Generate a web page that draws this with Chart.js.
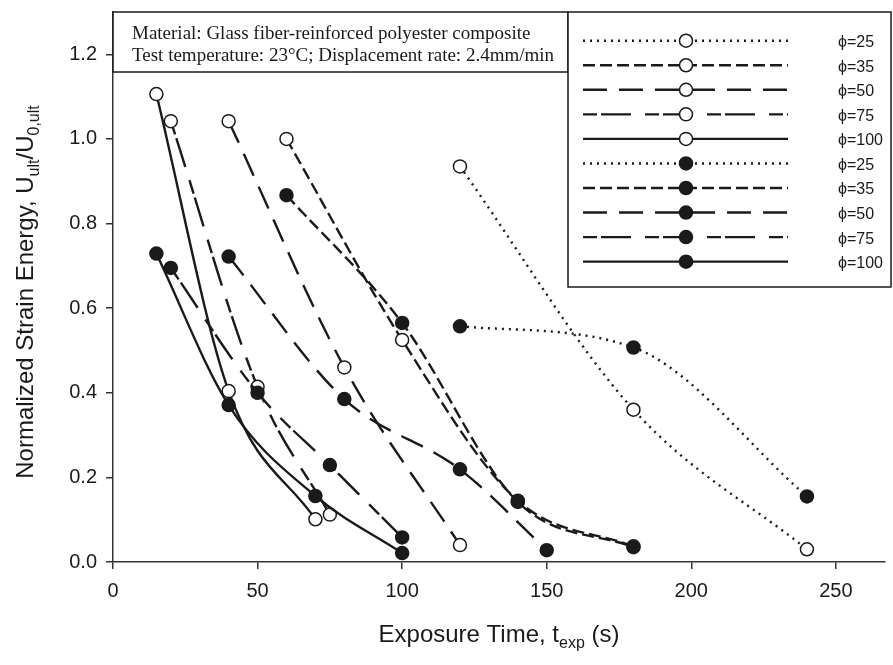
<!DOCTYPE html>
<html>
<head>
<meta charset="utf-8">
<script src="https://cdn.jsdelivr.net/npm/chart.js@4.4.1/dist/chart.umd.min.js"></script>
<style>
  html, body { margin: 0; padding: 0; background: #fff; }
  #wrap { width: 893px; height: 665px; }
</style>
</head>
<body>
<div id="wrap"><canvas id="chart" width="893" height="665"></canvas></div>
<script>
// Normalized strain energy vs exposure time, one series per phi (open / filled markers)
const phiLabels = ['ϕ=25', 'ϕ=35', 'ϕ=50', 'ϕ=75', 'ϕ=100'];

const openTimes = [[120, 180, 240], [60, 100, 140, 180], [40, 80, 120], [20, 50, 75], [15, 40, 70]];
const openValues = [
  [0.935, 0.36, 0.03],
  [1.0, 0.525, 0.145, 0.037],
  [1.042, 0.46, 0.04],
  [1.042, 0.414, 0.112],
  [1.106, 0.404, 0.101],
];

const filledTimes = [[120, 180, 240], [60, 100, 140, 180], [40, 80, 120, 150], [20, 50, 75, 100], [15, 40, 70, 100]];
const filledValues = [
  [0.557, 0.507, 0.155],
  [0.867, 0.565, 0.142, 0.035],
  [0.722, 0.385, 0.219, 0.028],
  [0.695, 0.40, 0.229, 0.058],
  [0.729, 0.371, 0.156, 0.021],
];

const xTicks = [0, 50, 100, 150, 200, 250];
const yTicks = [0, 0.2, 0.4, 0.6, 0.8, 1.0, 1.2];

const noteLines = [
  'Material: Glass fiber-reinforced polyester composite',
  'Test temperature: 23°C; Displacement rate: 2.4mm/min',
];

// line styles per phi (dotted, short dash, long dash, mixed, solid)
const DASHES = [[2, 5], [12, 5], [24, 12], [14, 4, 30, 14], []];
const INK = '#1a1a1a';
const SANS = '"Liberation Sans", Arial, sans-serif';

function makeSeries(times, values, filled) {
  return times.map((ts, i) => ({
    label: phiLabels[i],
    data: ts.map((t, j) => ({ x: t, y: values[i][j] })),
    borderColor: INK,
    borderWidth: 2.4,
    borderDash: DASHES[i],
    cubicInterpolationMode: 'monotone',
    pointRadius: 6.5,
    pointBorderWidth: 1.5,
    pointBorderColor: INK,
    pointBackgroundColor: filled ? INK : '#fff',
    order: filled ? 0 : 1,
  }));
}

const datasets = makeSeries(openTimes, openValues, false)
  .concat(makeSeries(filledTimes, filledValues, true));

// drop the label overflow padding so the plot frame sits where the figure has it
function noPad(s) {
  s.paddingTop = 0;
  s.paddingBottom = 0;
  s.paddingLeft = 0;
  s.paddingRight = 0;
}

// note box, legend box and axis titles (with subscripts)
const decorPlugin = {
  id: 'decor',
  afterDraw(chart) {
    const ctx = chart.ctx;
    const area = chart.chartArea;
    ctx.save();

    // note box
    ctx.fillStyle = '#fff';
    ctx.fillRect(area.left, area.top, 455, 60);
    ctx.strokeStyle = INK;
    ctx.lineWidth = 1.5;
    ctx.strokeRect(area.left, area.top, 455, 60);
    ctx.fillStyle = INK;
    ctx.font = '19px "Liberation Serif", "Times New Roman", serif';
    ctx.textBaseline = 'alphabetic';
    ctx.fillText(noteLines[0], area.left + 19, area.top + 27);
    ctx.fillText(noteLines[1], area.left + 19, area.top + 49);

    // legend box
    const lx = area.left + 455, ly = area.top;
    ctx.fillStyle = '#fff';
    ctx.fillRect(lx, ly, 323, 275);
    ctx.strokeRect(lx, ly, 323, 275);

    chart.data.datasets.forEach((ds, i) => {
      const y = ly + 28.7 + i * 24.55;
      ctx.save();
      ctx.strokeStyle = INK;
      ctx.lineWidth = ds.borderWidth;
      ctx.setLineDash(ds.borderDash);
      ctx.beginPath();
      ctx.moveTo(lx + 15, y);
      ctx.lineTo(lx + 220, y);
      ctx.stroke();
      ctx.setLineDash([]);
      ctx.beginPath();
      ctx.arc(lx + 118, y, ds.pointRadius, 0, Math.PI * 2);
      ctx.fillStyle = ds.pointBackgroundColor;
      ctx.fill();
      ctx.lineWidth = ds.pointBorderWidth;
      ctx.stroke();
      ctx.restore();
      ctx.fillStyle = INK;
      ctx.font = '16px ' + SANS;
      ctx.textBaseline = 'middle';
      ctx.fillText(ds.label, lx + 270, y + 2);
    });

    // x axis title
    const big = '24px ' + SANS, small = '16px ' + SANS;
    const parts = [['Exposure Time, t', big, 0], ['exp', small, 6], [' (s)', big, 0]];
    let w = 0;
    parts.forEach(p => { ctx.font = p[1]; w += ctx.measureText(p[0]).width; });
    let x = (area.left + area.right) / 2 - w / 2;
    ctx.fillStyle = INK;
    ctx.textBaseline = 'alphabetic';
    parts.forEach(p => {
      ctx.font = p[1];
      ctx.fillText(p[0], x, 642 + p[2]);
      x += ctx.measureText(p[0]).width;
    });

    // y axis title
    const yparts = [['Normalized Strain Energy, U', big, 0], ['ult', small, 6], ['/U', big, 0], ['0,ult', small, 6]];
    w = 0;
    yparts.forEach(p => { ctx.font = p[1]; w += ctx.measureText(p[0]).width; });
    ctx.translate(33, 292);
    ctx.rotate(-Math.PI / 2);
    x = -w / 2;
    yparts.forEach(p => {
      ctx.font = p[1];
      ctx.fillText(p[0], x, p[2]);
      x += ctx.measureText(p[0]).width;
    });
    ctx.restore();
  },
};

new Chart(document.getElementById('chart'), {
  type: 'line',
  data: { datasets },
  plugins: [decorPlugin],
  options: {
    responsive: false,
    animation: false,
    events: [],
    layout: { padding: { top: 12, right: 0, left: 0, bottom: 0 } },
    plugins: { legend: { display: false }, tooltip: { enabled: false } },
    scales: {
      x: {
        type: 'linear',
        min: 0,
        max: 267,
        afterBuildTicks: s => { s.ticks = xTicks.map(v => ({ value: v })); },
        afterFit: s => { s.height = 103; noPad(s); },
        ticks: { color: INK, font: { size: 20, family: SANS }, padding: 10, maxRotation: 0 },
        grid: { drawOnChartArea: false, tickLength: 7, color: '#333', lineWidth: 1.5 },
        border: { color: '#333', width: 1.5 },
      },
      y: {
        type: 'linear',
        min: 0,
        max: 1.3,
        afterBuildTicks: s => { s.ticks = yTicks.map(v => ({ value: v })); },
        afterFit: s => { s.width = 113; noPad(s); },
        ticks: { color: INK, font: { size: 20, family: SANS }, padding: 9, callback: v => v.toFixed(1) },
        grid: { drawOnChartArea: false, tickLength: 7, color: '#333', lineWidth: 1.5 },
        border: { color: '#333', width: 1.5 },
      },
    },
  },
});
</script>
</body>
</html>
